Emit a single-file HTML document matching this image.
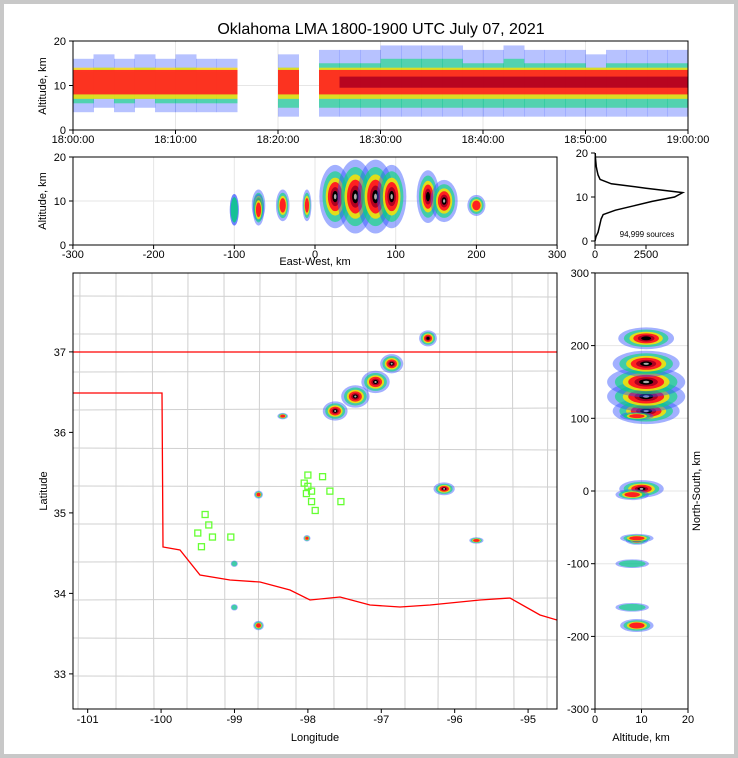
<!DOCTYPE html>
<html><head><meta charset="utf-8"><style>
body{margin:0;background:#fff;}
svg{display:block;font-family:"Liberation Sans",sans-serif;}
</style></head><body>
<svg id="s" width="738" height="758" viewBox="0 0 738 758">
<rect x="2" y="2" width="734" height="754" fill="#fff" stroke="#c8c8c8" stroke-width="4"/>
<text x="381" y="34" font-size="16" text-anchor="middle">Oklahoma LMA 1800-1900 UTC July 07, 2021</text>
<g id="gTop"></g>
<g id="gMid"></g>
<g id="gHist"></g>
<g id="gMap"></g>
<g id="gRight"></g>
</svg>
<script>
// ---- data ----
const minutes = [0,2,4,6,8,10,12,14,16,18,20,22,24,26,28,30,32,34,36,38,40,42,44,46,48,50,52,54,56,58];
const bandTop = [16,17,16,17,16,17,16,16,0,0,17,0,18,18,18,19,19,19,19,18,18,19,18,18,18,17,18,18,18,18];
const bandBot = [4,5,4,5,4,4,4,4,0,0,3,0,3,3,3,3,3,3,3,3,3,3,3,3,3,3,3,3,3,3];
const bandLevel = [2,2,2,2,2,2,2,2,0,0,2,0,2,3,3,3,3,3,3,3,3,3,3,3,3,3,3,3,3,3];
const cellX = [25,50,75,95,140,160,200,-40,-70,-100,-10,-100,-70];
const cellY = [110,130,150,175,210,3,-68,103,-185,-160,-65,-100,-5];
const cellAlt = [11,11,11,11,11,10,9,9,9,8,9,8,8];
const cellSx = [14,16,16,13,10,12,8,6,6,4,4,4,5];
const cellSy = [12,14,14,12,10,8,4,4,6,4,4,4,5];
const cellSz = [6,7,7,6,5,4,2,3,3,3,3,3,3];
const cellLevel = [3,3,3,3,2,3,1,1,1,0,1,0,1];
const histAlt = [0,1,2,3,4,5,6,7,8,9,10,11,12,13,14,15,16,17,18,19,20];
const histCount = [0,50,150,200,250,300,400,1000,1900,2800,3900,4300,2500,800,250,150,100,60,40,20,10];
const timeTicks = ["18:00:00","18:10:00","18:20:00","18:30:00","18:40:00","18:50:00","19:00:00"];
const ewTicks = [-300,-200,-100,0,100,200,300];
const altTicks = [0,10,20];
const lonTicks = [-101,-100,-99,-98,-97,-96,-95];
const latTicks = [33,34,35,36,37];
const nsTicks = [-300,-200,-100,0,100,200,300];
const histTicks = [0,2500];
const greenLon = [-99.4,-99.35,-99.3,-99.5,-99.45,-99.05,-98.0,-98.05,-97.95,-97.9,-97.8,-97.7,-97.55,-97.95,-98.02,-98.0];
const greenLat = [34.98,34.85,34.7,34.75,34.58,34.7,35.47,35.37,35.27,35.03,35.45,35.27,35.14,35.14,35.24,35.33];

const NS="http://www.w3.org/2000/svg";
function el(tag,attrs,parent,txt){const e=document.createElementNS(NS,tag);for(const k in attrs)e.setAttribute(k,attrs[k]);if(txt!==undefined)e.textContent=txt;parent.appendChild(e);return e;}
const ramp=[["#3050ff",1,0.45],["#00e070",0.8,0.6],["#ffe000",0.6,0.85],["#ff2020",0.46,1],["#b00020",0.3,1],["#000",0.18,1],["#aaa",0.08,1]];
function blob(g,cx,cy,rx,ry,level,name){
  const n = level>=3?7:level==2?6:level==1?4:2;
  for(let i=0;i<n;i++){
    const e=el("ellipse",{cx:cx,cy:cy,rx:Math.max(1,rx*ramp[i][1]),ry:Math.max(1,ry*ramp[i][1]),fill:ramp[i][0],"fill-opacity":ramp[i][2]},g);
    
    
  }
}
function frame(g,x,y,w,h,name){
  const r=el("rect",{x:x,y:y,width:w,height:h,fill:"none",stroke:"#000","stroke-width":1},g);
  
  
}
function label(g,x,y,t,anchor,name,size,rot){
  const a={x:x,y:y,"font-size":size||11,"text-anchor":anchor||"middle"};
  if(rot)a.transform="rotate("+rot+" "+x+" "+y+")";
  const e=el("text",a,g,t);
  
  
}
function grid(g,x1,y1,x2,y2){const l=el("line",{x1:x1,y1:y1,x2:x2,y2:y2,stroke:"#e6e6e6","stroke-width":1},g);}
function tick(g,x1,y1,x2,y2){const l=el("line",{x1:x1,y1:y1,x2:x2,y2:y2,stroke:"#000","stroke-width":1},g);}

// ---- top panel ----
(function(){
  const g=document.getElementById("gTop");
  const X=t=>73+t*615/60, Y=a=>130-a*89/20;
  altTicks.forEach(a=>{grid(g,73,Y(a),688,Y(a));tick(g,73,Y(a),69,Y(a));label(g,66,Y(a)+4,a,"end","y-tick-label");});
  timeTicks.forEach((t,i)=>{grid(g,X(i*10),41,X(i*10),130);tick(g,X(i*10),130,X(i*10),134);label(g,X(i*10),143,t,"middle","x-tick-label");});
  minutes.forEach((m,i)=>{
    if(!bandTop[i])return;
    const x=X(m), w=X(m+2)-x+0.5;
    const cols=[["#3050ff",0.35],["#00e070",0.55],["#ffe000",0.8],["#ff2020",0.9],["#b00020",0.9]];
    const lv=bandLevel[i];
    const spans=[[bandBot[i],bandTop[i]],[bandBot[i]+2,bandTop[i]-3],[7,14],[8,13.5],[9.5,12]];
    for(let k=0;k<Math.min(5,lv+2);k++){
      const r=el("rect",{x:x,y:Y(spans[k][1]),width:w,height:Y(spans[k][0])-Y(spans[k][1]),fill:cols[k][0],"fill-opacity":cols[k][1]},g);
      
      
    }
  });
  frame(g,73,41,615,89,"top-panel-frame");
  label(g,46,86,"Altitude, km","middle","y-axis-title",11,-90);
})();

// ---- middle panel ----
(function(){
  const g=document.getElementById("gMid");
  const X=v=>315+v*0.807, Y=a=>245-a*88/20;
  altTicks.forEach(a=>{grid(g,73,Y(a),557,Y(a));tick(g,73,Y(a),69,Y(a));label(g,66,Y(a)+4,a,"end","y-tick-label");});
  ewTicks.forEach(v=>{grid(g,X(v),157,X(v),245);tick(g,X(v),245,X(v),249);label(g,X(v),258,v,"middle","x-tick-label");});
  cellX.forEach((cx,i)=>blob(g,X(cx),Y(cellAlt[i]),cellSx[i]*0.807*1.4,cellSz[i]*4.4*1.2,cellLevel[i],"storm-cell-ew"));
  frame(g,73,157,484,88,"middle-panel-frame");
  label(g,315,265,"East-West, km","middle","x-axis-title");
  label(g,46,201,"Altitude, km","middle","y-axis-title",11,-90);
})();

// ---- histogram ----
(function(){
  const g=document.getElementById("gHist");
  const X=c=>595+c*51/2500, Y=a=>241-a*88/20;
  altTicks.forEach(a=>{tick(g,595,Y(a),591,Y(a));label(g,588,Y(a)+4,a,"end","y-tick-label");});
  histTicks.forEach(c=>{tick(g,X(c),245,X(c),249);label(g,X(c),258,c,"middle","x-tick-label");});
  const pts=histAlt.map((a,i)=>X(histCount[i])+","+Y(a)).join(" ");
  const p=el("polyline",{points:pts,fill:"none",stroke:"#000","stroke-width":1.5},g);
  
  
  label(g,647,237,"94,999 sources","middle","source-count-label",8);
  frame(g,595,157,93,88,"histogram-frame");
})();

// ---- map ----
(function(){
  const g=document.getElementById("gMap");
  const LX=l=>73+(l+101.2)*73.4, LY=t=>273+(37.98-t)*80.5;
  const cp=el("clipPath",{id:"mc"},g);el("rect",{x:73,y:273,width:484,height:436},cp);
  const inner=el("g",{"clip-path":"url(#mc)"},g);
  for(let x=80;x<557;x+=36){const l=el("line",{x1:x,y1:273,x2:x+((x*7)%5-2),y2:709,stroke:"#d0d0d0","stroke-width":1},inner);}
  for(let y=296;y<709;y+=38){const l=el("line",{x1:73,y1:y,x2:557,y2:y+((y*3)%5-2),stroke:"#d0d0d0","stroke-width":1},inner);}
  const ok="73,352 557,352 M73,393 162,393 163,547 180,550 200,575 230,580 260,582 290,590 310,600 340,597 370,605 400,607 430,605 450,603 480,600 510,598 540,615 557,620";
  const p=el("path",{d:"M"+ok,fill:"none",stroke:"#ff0000","stroke-width":1.3},inner);
  
  const X=v=>315+v*0.807, Y=v=>491-v*0.727;
  cellX.forEach((cx,i)=>blob(inner,X(cx),Y(cellY[i]),cellSx[i]*0.807*1.1,cellSy[i]*0.727*1.1,cellLevel[i],"storm-cell-map"));
  greenLon.forEach((lo,i)=>{const r=el("rect",{x:LX(lo)-3,y:LY(greenLat[i])-3,width:6,height:6,fill:"none",stroke:"#66ff33","stroke-width":1.3},inner);});
  lonTicks.forEach(l=>{tick(g,LX(l),709,LX(l),713);label(g,LX(l),723,l,"middle","x-tick-label");});
  latTicks.forEach(t=>{tick(g,73,LY(t),69,LY(t));label(g,66,LY(t)+4,t,"end","y-tick-label");});
  frame(g,73,273,484,436,"map-frame");
  label(g,315,741,"Longitude","middle","x-axis-title");
  label(g,47,491,"Latitude","middle","y-axis-title",11,-90);
})();

// ---- right panel ----
(function(){
  const g=document.getElementById("gRight");
  const X=a=>595+a*93/20, Y=v=>491-v*0.727;
  [0,10,20].forEach(a=>{grid(g,X(a),273,X(a),709);tick(g,X(a),709,X(a),713);label(g,X(a),723,a,"middle","x-tick-label");});
  nsTicks.forEach(v=>{grid(g,595,Y(v),688,Y(v));tick(g,595,Y(v),591,Y(v));label(g,589,Y(v)+4,v,"end","y-tick-label");});
  cellY.forEach((cy,i)=>blob(g,X(cellAlt[i]),Y(cy),cellSz[i]*4.65*1.2,cellSy[i]*0.727*1.5,cellLevel[i],"storm-cell-ns"));
  frame(g,595,273,93,436,"right-panel-frame");
  label(g,641,741,"Altitude, km","middle","x-axis-title");
  label(g,700,491,"North-South, km","middle","y-axis-title",11,-90);
})();
</script>
</body></html>
